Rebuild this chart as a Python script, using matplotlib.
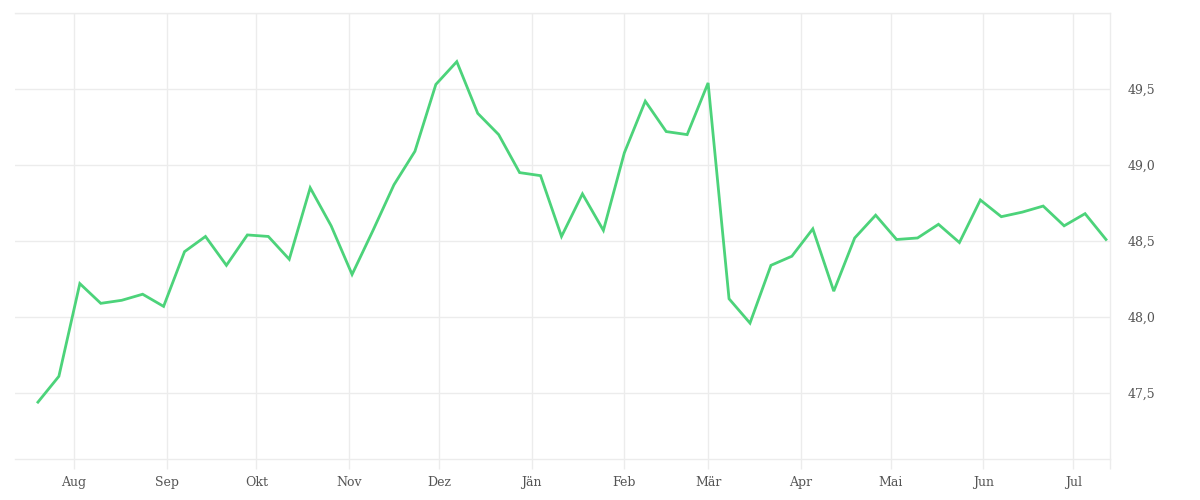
import numpy as np
import pandas as pd
import matplotlib
matplotlib.use('Agg')
import matplotlib.pyplot as plt
import matplotlib.dates as mdates
from matplotlib.ticker import FuncFormatter

# Weekly values
dates = pd.date_range('2024-07-20', periods=52, freq='7D')
values = [47.44, 47.61, 48.22, 48.09, 48.11, 48.15, 48.07, 48.43, 48.53, 48.34,
          48.54, 48.53, 48.38, 48.85, 48.60, 48.28, 48.57, 48.87, 49.09, 49.53,
          49.68, 49.34, 49.20, 48.95, 48.93, 48.53, 48.81, 48.57, 49.08, 49.42,
          49.22, 49.20, 49.54, 48.12, 47.96, 48.34, 48.40, 48.58, 48.17, 48.52,
          48.67, 48.51, 48.52, 48.61, 48.49, 48.77, 48.66, 48.69, 48.73, 48.60,
          48.68, 48.51]

month_starts = pd.date_range('2024-08-01', '2025-07-01', freq='MS')
month_labels = ['Aug', 'Sep', 'Okt', 'Nov', 'Dez', 'Jän', 'Feb', 'Mär',
                'Apr', 'Mai', 'Jun', 'Jul']
y_ticks = [47.5, 48.0, 48.5, 49.0, 49.5, 50.0]

grid_col = '#ececec'
text_col = '#555555'

fig = plt.figure(figsize=(12, 5), dpi=100)
ax = fig.add_axes([0.0125, 0.082, 0.9125, 0.892])

ax.plot(dates, values, color='#4cd37a', linewidth=2.0, solid_joinstyle='miter')

ax.set_xlim(pd.Timestamp('2024-07-12 08:00'), pd.Timestamp('2025-07-13 08:00'))
ax.set_ylim(47.066, 50.0)

ax.set_xticks(month_starts)
ax.set_xticklabels(month_labels)
ax.set_xticks([pd.Timestamp('2025-07-13 08:00')], minor=True)
ax.set_yticks(y_ticks)
ax.yaxis.set_major_formatter(FuncFormatter(
    lambda v, p: '' if v >= 50 else f'{v:.1f}'.replace('.', ',')))
ax.yaxis.tick_right()

ax.grid(True, color=grid_col, linewidth=1)
ax.tick_params(axis='x', which='both', length=7.5, width=1, color=grid_col,
               labelsize=9, labelcolor=text_col, pad=5)
ax.tick_params(axis='y', length=0, labelsize=9, labelcolor=text_col, pad=12.5)
for lab in ax.get_xticklabels() + ax.get_yticklabels():
    lab.set_family('DejaVu Serif')

ax.spines['left'].set_visible(False)
for s in ['top', 'bottom', 'right']:
    ax.spines[s].set_color(grid_col)
    ax.spines[s].set_linewidth(1)

fig.savefig('out.png', dpi=100)
